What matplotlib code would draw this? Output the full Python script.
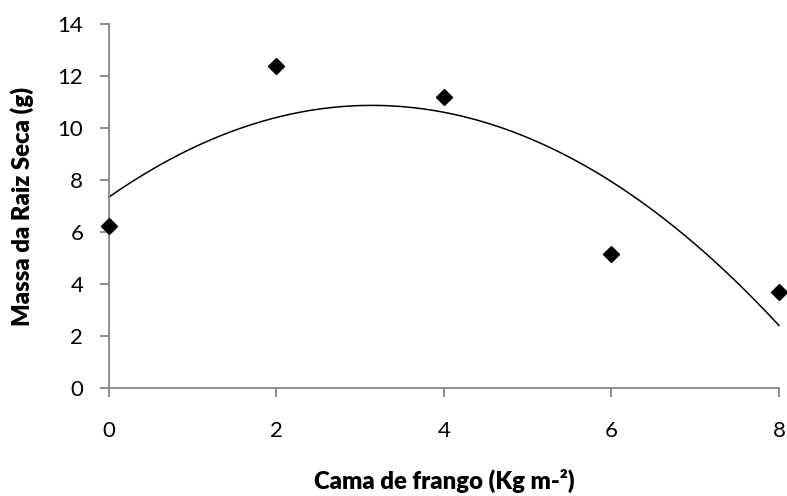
import numpy as np
import matplotlib
matplotlib.use('Agg')
import matplotlib.pyplot as plt

# Dose of chicken litter (Kg m-2) and dry root mass (g)
doses = [0, 2, 4, 6, 8]
root_mass = [6.25, 12.4, 11.2, 5.15, 3.7]

x_ticks = [0, 2, 4, 6, 8]
y_ticks = [0, 2, 4, 6, 8, 10, 12, 14]

plt.rcParams['font.family'] = ['Lato', 'DejaVu Sans']

fig = plt.figure(figsize=(7.87, 4.96), dpi=100)
ax = fig.add_axes([0.1385, 0.2177, 0.8513, 0.7339])

# polynomial (order 2) trendline, as in the spreadsheet
coef = np.polyfit(doses, root_mass, 2)
xs = np.linspace(min(doses), max(doses), 200)
ax.plot(xs, np.polyval(coef, xs), color='black', linewidth=1.1, clip_on=False)

ax.plot(doses, root_mass, linestyle='none', marker='D', markersize=8.5,
        color='black', clip_on=False, zorder=3)

ax.set_xlim(0, 8)
ax.set_ylim(0, 14)
ax.set_xticks(x_ticks)
ax.set_yticks(y_ticks)

axis_grey = '#868686'
for side in ['top', 'right']:
    ax.spines[side].set_visible(False)
for side in ['left', 'bottom']:
    ax.spines[side].set_color(axis_grey)
    ax.spines[side].set_linewidth(1.3)

ax.tick_params(axis='both', direction='out', length=6.5, width=1.3,
               color=axis_grey, labelsize=16)
ax.tick_params(axis='x', pad=17)
ax.tick_params(axis='y', pad=12)

xl = ax.set_xlabel('Cama de frango (Kg m-²)', fontsize=17.2, fontweight='heavy')
ax.xaxis.set_label_coords(0.5, -0.2775)
xl.set_va('baseline')

yl = ax.set_ylabel('Massa da Raiz Seca (g)', fontsize=17.2, fontweight='heavy')
ax.yaxis.set_label_coords(-0.13, 0.5)
yl.set_va('center')

fig.savefig('out.png', dpi=100)
